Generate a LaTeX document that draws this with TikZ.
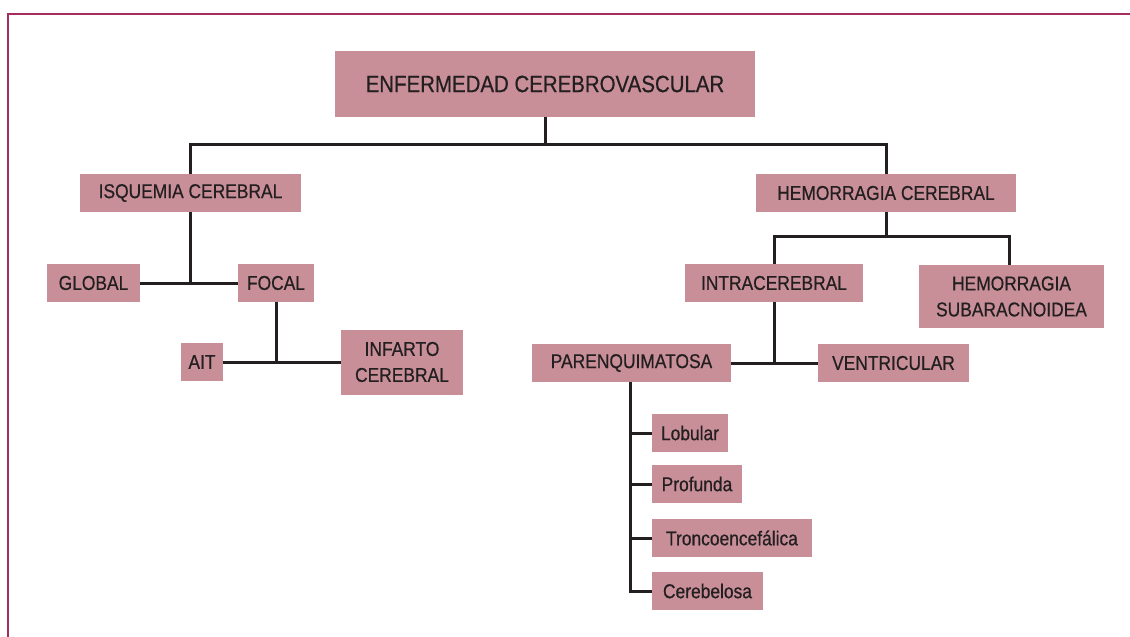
\documentclass[tikz,border=0pt]{standalone}
\usepackage{fontspec}
\setmainfont{Liberation Sans}[FakeStretch=0.87, FakeBold=0.6]
\definecolor{cajarosa}{RGB}{201,143,153}
\definecolor{tinta}{RGB}{35,31,32}
\definecolor{marco}{RGB}{165,45,95}

\tikzset{
  concepto/.style={fill=cajarosa, text=tinta, inner sep=0pt, minimum height=38pt,
    align=center, font=\fontsize{20}{26}\selectfont},
  enlace/.style={draw=tinta, line width=3pt}
}

\begin{document}
\begin{tikzpicture}[x=1pt, y=-1pt]
  \useasboundingbox (0,0) rectangle (1130,637);
  % marco
  \draw[marco, line width=1.6pt] (8,637) -- (8,14) -- (1130,14);

  % nodos
  \node[concepto, minimum width=420pt, minimum height=66pt, font=\fontsize{23.5}{28}\selectfont]
    (titulo) at (545,84) {ENFERMEDAD CEREBROVASCULAR};
  \node[concepto, minimum width=221pt] (isquemia) at (190.5,193) {ISQUEMIA CEREBRAL};
  \node[concepto, minimum width=260pt] (hemorragia) at (886,193) {HEMORRAGIA CEREBRAL};
  \node[concepto, minimum width=93pt] (global) at (93.5,283) {GLOBAL};
  \node[concepto, minimum width=76pt] (focal) at (276,283) {FOCAL};
  \node[concepto, minimum width=42pt] (ait) at (202,362) {AIT};
  \node[concepto, minimum width=122pt, minimum height=65pt] (infarto) at (402,362) {INFARTO\\CEREBRAL};
  \node[concepto, minimum width=178pt] (intra) at (774,283) {INTRACEREBRAL};
  \node[concepto, minimum width=185pt, minimum height=63pt] (subarac) at (1011.5,296.5) {HEMORRAGIA\\SUBARACNOIDEA};
  \node[concepto, minimum width=199pt] (parenq) at (631.5,363) {PARENQUIMATOSA};
  \node[concepto, minimum width=151pt] (ventri) at (893.5,363) {VENTRICULAR};
  \node[concepto, minimum width=76pt] (lobular) at (690,433) {Lobular};
  \node[concepto, minimum width=90pt] (profunda) at (697,484) {Profunda};
  \node[concepto, minimum width=160pt] (tronco) at (732,538) {Troncoencefálica};
  \node[concepto, minimum width=111pt] (cerebelosa) at (707.5,591) {Cerebelosa};

  % enlaces
  \coordinate (j1) at (545,144);
  \coordinate (j2) at (886,236);
  \draw[enlace] (titulo.south) -- (j1);
  \draw[enlace] (isquemia.north) |- (j1) -| (hemorragia.north);
  \draw[enlace] (isquemia.south) -- (isquemia |- global);
  \draw[enlace] (global.east) -- (focal.west);
  \draw[enlace] (focal.south) -- (focal |- ait);
  \draw[enlace] (ait.east) -- (infarto.west);
  \draw[enlace] (hemorragia.south) -- (j2);
  \draw[enlace] (intra.north) |- (j2) -| (subarac.north -| 1009,0);
  \draw[enlace] (intra.south) -- (intra |- parenq);
  \draw[enlace] (parenq.east) -- (ventri.west);
  \draw[enlace] (parenq.south -| 630,0) |- (cerebelosa.west);
  \foreach \n in {lobular,profunda,tronco}
    \draw[enlace] (630,0 |- \n.west) -- (\n.west);
\end{tikzpicture}
\end{document}
